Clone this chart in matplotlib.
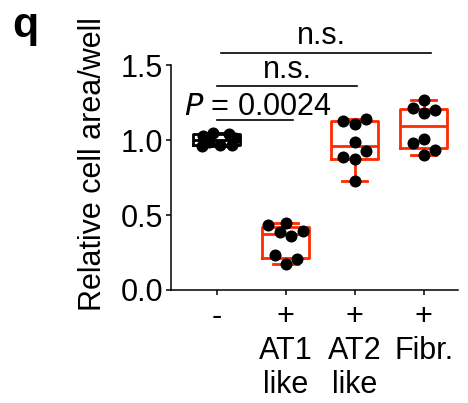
import numpy as np
import matplotlib
matplotlib.use("Agg")
import matplotlib.pyplot as plt

plt.rcParams['font.family'] = ['Liberation Sans', 'DejaVu Sans']

# Relative cell area per well for each co-culture condition
categories = ["-", "+\nAT1\nlike", "+\nAT2\nlike", "+\nFibr."]
control = [1.045, 1.04, 1.03, 1.015, 0.985, 0.97, 0.965, 0.96]
at1_like = [0.432, 0.447, 0.394, 0.387, 0.359, 0.232, 0.204, 0.171]
at2_like = [1.129, 1.107, 1.140, 0.985, 0.930, 0.890, 0.872, 0.730]
fibro = [1.268, 1.213, 1.180, 1.200, 1.007, 0.978, 0.934, 0.903]
groups = [control, at1_like, at2_like, fibro]
yticks = [0.0, 0.5, 1.0, 1.5]

# horizontal scatter of points within each box (in x units)
jitter = [
    [-0.06, 0.17, -0.20, 0.26, -0.12, 0.04, 0.22, -0.22],
    [-0.26, 0.0, 0.25, -0.08, 0.08, -0.16, 0.17, 0.0],
    [-0.17, 0.0, 0.16, 0.0, 0.16, -0.17, 0.0, 0.0],
    [0.0, -0.16, 0.0, 0.17, 0.0, -0.16, 0.17, 0.0],
]

box_colors = ["black", "#ff2a00", "#ff2a00", "#ff2a00"]
FS = 22


def box_stats(vals, label):
    v = np.asarray(vals)
    q1, med, q3 = np.percentile(v, [25, 50, 75], method="weibull")
    return dict(med=med, q1=q1, q3=q3, whislo=v.min(), whishi=v.max(),
                fliers=[], label=label)


fig = plt.figure(figsize=(4.68, 4.03), dpi=100)
ax = fig.add_axes([0.365, 0.2804, 0.614, 0.5583])

positions = np.arange(len(groups))
for i, vals in enumerate(groups):
    c = box_colors[i]
    st = box_stats(vals, categories[i])
    ax.bxp([st], positions=[i], widths=0.68, showfliers=False,
           patch_artist=False,
           boxprops=dict(color=c, lw=2.0),
           medianprops=dict(color=c, lw=2.0),
           whiskerprops=dict(color=c, lw=2.0),
           capprops=dict(color=c, lw=2.0),
           capwidths=0.36, manage_ticks=False)
    ax.scatter(np.full(len(vals), i) + np.array(jitter[i]), vals,
               s=75, color="black", zorder=5, linewidths=0)

ax.set_xlim(-0.667, 3.5)
ax.set_ylim(0, 1.5)
ax.set_yticks(yticks)
ax.set_yticklabels([f"{t:.1f}" for t in yticks])
ax.set_xticks(positions)
ax.set_xticklabels(categories, linespacing=1.17)

for s in ["top", "right"]:
    ax.spines[s].set_visible(False)
for s in ["left", "bottom"]:
    ax.spines[s].set_linewidth(1.1)
ax.tick_params(axis="both", labelsize=FS, width=1.1, length=3.6, pad=2)
ax.tick_params(axis="x", pad=5)

ax.set_ylabel("Relative cell area/well", fontsize=FS)
ax.yaxis.set_label_coords(-0.22, 0.56)

# significance brackets
def bracket(x0, x1, y, text, xt, dy):
    ax.plot([x0, x1], [y, y], color="black", lw=1.2, clip_on=False)
    ax.annotate(text, xy=(xt, y), xytext=(0, dy), textcoords="offset points",
                ha="center", va="baseline", fontsize=FS, annotation_clip=False)

bracket(0.0, 1.1, 1.135, r"$\it{P}$ = 0.0024", 0.59, 3.5)
bracket(0.0, 2.03, 1.361, "n.s.", 1.02, 5.5)
bracket(0.06, 3.1, 1.58, "n.s.", 1.52, 6.5)

fig.text(12 / 468, 1 - 37 / 403, "q", fontsize=31, fontweight="bold",
         ha="left", va="baseline")

fig.savefig("out.png", dpi=100)
